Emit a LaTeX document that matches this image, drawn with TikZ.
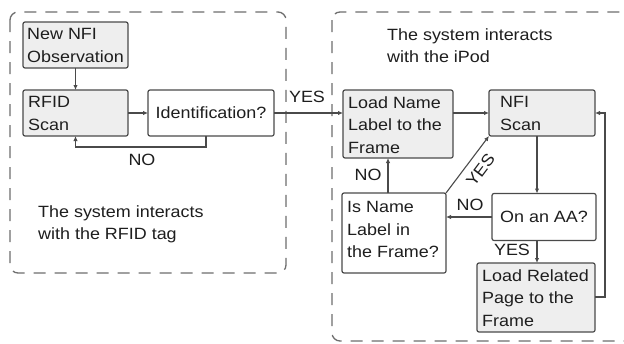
\documentclass[tikz,border=0pt]{standalone}
\usepackage{fontspec}
\setmainfont{Liberation Sans}[FakeStretch=1.1]
\usetikzlibrary{arrows.meta}
\definecolor{ln}{HTML}{4A4A4A}
\definecolor{bx}{HTML}{EEEEEE}
\definecolor{tx}{HTML}{1E1E1E}
\tikzset{
  base/.style={draw=ln, line width=1.2pt, rounded corners=2pt, inner sep=0pt, outer sep=0pt, text=tx},
  gbox/.style={base, fill=bx},
  wbox/.style={base, fill=white},
  conn/.style={draw=ln, line width=1.1pt, -{Latex[length=5pt,width=4.5pt]}},
  region/.style={draw=ln!80, line width=1.3pt, dash pattern=on 12pt off 9pt, rounded corners=8pt},
  lbl/.style={text=tx, inner sep=0pt, font=\fontsize{16.3}{20}\selectfont},
  txt/.style={align=left, font=\fontsize{16.3}{22.7}\selectfont, text=tx, inner sep=0pt, anchor=north west}
}
\begin{document}
\begin{tikzpicture}[x=1pt,y=-1pt]
\useasboundingbox (0,0) rectangle (624,343);
\fill[white] (0,0) rectangle (624,343);
% regions
\draw[region] (10,12) rectangle (286,273);
\draw[region] (332,12) rectangle (660,341);
% boxes
\node[gbox, minimum width=105pt, minimum height=46pt] (obs) at (75.5,45) {};
\node[txt] at (27,28) {New NFI\\Observation};
\node[gbox, minimum width=105pt, minimum height=46pt] (rfid) at (75.5,113) {};
\node[txt] at (28,96) {RFID\\Scan};
\node[wbox, minimum width=126pt, minimum height=46pt, font=\fontsize{16.3}{23}\selectfont] (ident) at (211,113) {Identification?};
\node[gbox, minimum width=110pt, minimum height=68pt] (load) at (398,124) {};
\node[txt] at (348,96) {Load Name\\Label to the\\Frame};
\node[gbox, minimum width=106pt, minimum height=46pt] (nfi) at (542,113) {};
\node[txt] at (500,96) {NFI\\Scan};
\node[wbox, minimum width=104pt, minimum height=47pt, font=\fontsize{16.3}{23}\selectfont] (aa) at (544,217) {On an AA?};
\node[wbox, minimum width=104pt, minimum height=80pt] (isname) at (394,233) {};
\node[txt] at (347,201) {Is Name\\Label in\\the Frame?};
\node[gbox, minimum width=118pt, minimum height=69pt] (rel) at (536,297.5) {};
\node[txt] at (482,269) {Load Related\\Page to the\\Frame};
% titles
\node[txt] at (387,28) {The system interacts\\with the iPod};
\node[txt] at (38,205) {The system interacts\\with the RFID tag};
% connectors
\draw[conn] (obs.south) -- (rfid.north);
\draw[conn] (rfid.east) -- (ident.west);
\draw[conn] (ident.south -| 206,0) -- (206,147) -| (rfid.south);
\node[lbl] (no1) at (142,160) {NO};
\draw[conn] (ident.east) -- (ident.east -| load.west);
\node[lbl] (yes1) at (307,97) {YES};
\draw[conn] (nfi.west -| load.east) -- (nfi.west);
\draw[conn] (nfi.south -| 537,0) -- (aa.north -| 537,0);
\draw[conn] (aa.south -| 537,0) -- (rel.north -| 537,0);
\node[lbl] (yes2) at (512,250) {YES};
\draw[conn] (aa.west) -- (aa.west -| isname.east);
\node[lbl] (no2) at (470,205) {NO};
\draw[conn] (isname.north -| 388,0) -- (load.south -| 388,0);
\node[lbl] (no3) at (368,175) {NO};
\draw[conn] (isname.north east) -- (nfi.south west);
\node[lbl, rotate=53] (yes3) at (480.5,170) {YES};
\coordinate (rr) at (605,297);
\draw[conn] (rel.east |- rr) -- (rr) |- (nfi.east);
\end{tikzpicture}
\end{document}
